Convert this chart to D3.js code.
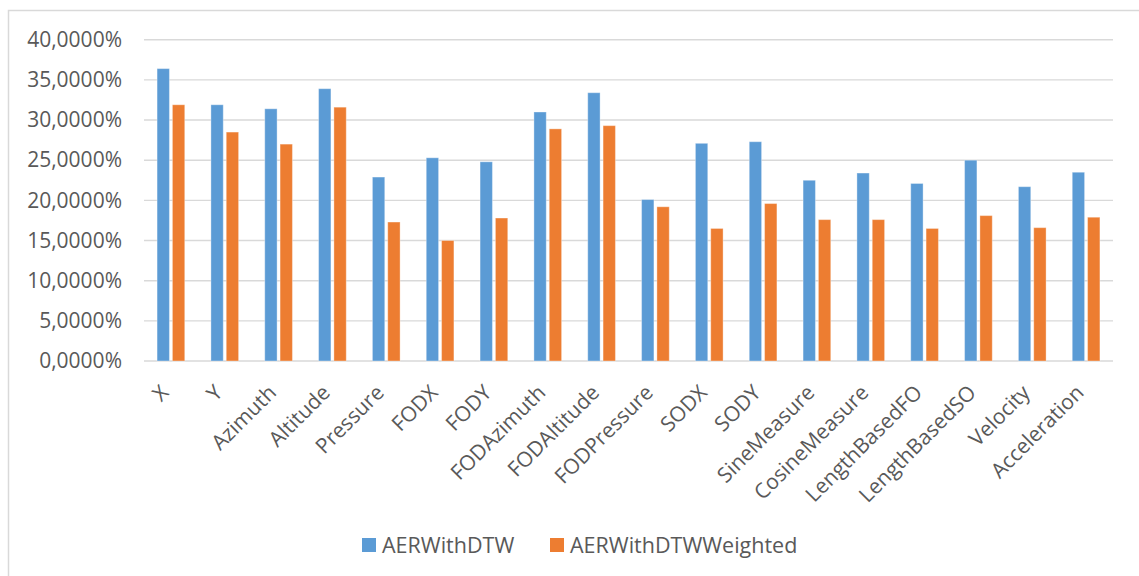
<!DOCTYPE html>
<html>
<head>
<meta charset="utf-8">
<script src="https://cdn.jsdelivr.net/npm/d3@7"></script>
<style>
  html, body { margin: 0; padding: 0; background: #fff; }
  svg { display: block; }
  text { font-family: "Open Sans", "DejaVu Sans", sans-serif; fill: #595959; }
</style>
</head>
<body>
<svg id="chart" width="1139" height="576"></svg>
<script>
// Error rates per feature, two DTW variants
const categories = ["X", "Y", "Azimuth", "Altitude", "Pressure", "FODX", "FODY",
  "FODAzimuth", "FODAltitude", "FODPressure", "SODX", "SODY", "SineMeasure",
  "CosineMeasure", "LengthBasedFO", "LengthBasedSO", "Velocity", "Acceleration"];
const seriesNames = ["AERWithDTW", "AERWithDTWWeighted"];
const aerWithDTW = [0.364, 0.319, 0.314, 0.339, 0.229, 0.253, 0.248,
  0.310, 0.334, 0.201, 0.271, 0.273, 0.225,
  0.234, 0.221, 0.250, 0.217, 0.235];
const aerWithDTWWeighted = [0.319, 0.285, 0.270, 0.316, 0.173, 0.150, 0.178,
  0.289, 0.293, 0.192, 0.165, 0.196, 0.176,
  0.176, 0.165, 0.181, 0.166, 0.179];
const yTicks = [0, 0.05, 0.10, 0.15, 0.20, 0.25, 0.30, 0.35, 0.40];
const colors = ["#5b9bd5", "#ed7d31"];

const svg = d3.select("#chart");
const W = 1139, H = 576;
const plot = { left: 144, right: 1113, top: 39.7, bottom: 361 };

const locale = d3.formatLocale({ decimal: ",", thousands: ".", grouping: [3], currency: ["", "€"] });
const fmt = locale.format(".4%");

// chart frame
svg.append("path")
  .attr("d", `M8.5,${H} V10.5 H${W}`)
  .attr("fill", "none").attr("stroke", "#d9d9d9").attr("stroke-width", 1.5);

const y = d3.scaleLinear().domain([0, 0.40]).range([plot.bottom, plot.top]);
const x = d3.scaleBand().domain(categories).range([plot.left, plot.right])
  .paddingInner(0.486).paddingOuter(0.243);
const x1 = d3.scaleBand().domain(seriesNames).range([0, x.bandwidth()]).paddingInner(0.195);

// horizontal gridlines
svg.append("g").selectAll("line").data(yTicks).join("line")
  .attr("x1", plot.left).attr("x2", plot.right)
  .attr("y1", d => y(d)).attr("y2", d => y(d))
  .attr("stroke", "#d9d9d9").attr("stroke-width", 1.4);

// y axis labels
const yAxis = svg.append("g").attr("transform", `translate(${plot.left - 22},0)`)
  .call(d3.axisLeft(y).tickValues(yTicks).tickFormat(fmt).tickSize(0).tickPadding(0));
yAxis.select(".domain").remove();
yAxis.selectAll("text").style("font-size", "21px").attr("fill", "#595959");

// bars
const rows = categories.map((c, i) => ({ cat: c, vals: [aerWithDTW[i], aerWithDTWWeighted[i]] }));
const groups = svg.append("g").selectAll("g").data(rows).join("g")
  .attr("transform", d => `translate(${x(d.cat)},0)`);
groups.selectAll("rect").data(d => d.vals.map((v, k) => ({ v, k }))).join("rect")
  .attr("x", d => x1(seriesNames[d.k]))
  .attr("width", x1.bandwidth())
  .attr("y", d => y(d.v))
  .attr("height", d => y(0) - y(d.v))
  .attr("fill", d => colors[d.k])
  .attr("stroke", "#ffffff").attr("stroke-opacity", 0.35).attr("stroke-width", 1);

// category labels, rotated
const xAxis = svg.append("g").attr("transform", `translate(0,${plot.bottom})`)
  .call(d3.axisBottom(x).tickSize(0).tickPadding(0));
xAxis.select(".domain").remove();
xAxis.selectAll("text")
  .style("font-size", "21px")
  .attr("fill", "#595959")
  .attr("text-anchor", "end")
  .attr("dy", null)
  .attr("y", null)
  .attr("transform", "translate(-1,33) rotate(-45)");

// legend
const legend = svg.append("g");
const legendX = [362, 550];
seriesNames.forEach((name, k) => {
  legend.append("rect").attr("x", legendX[k]).attr("y", 538).attr("width", 14).attr("height", 14)
    .attr("fill", colors[k]);
  legend.append("text").attr("x", legendX[k] + 20).attr("y", 545).attr("dy", "0.35em")
    .style("font-size", "21.5px").text(name);
});
</script>
</body>
</html>
